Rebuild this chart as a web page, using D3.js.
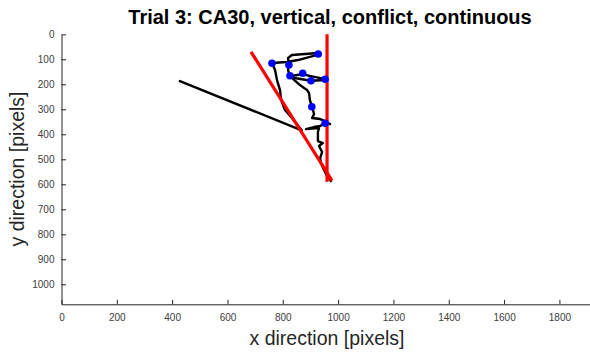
<!DOCTYPE html>
<html>
<head>
<meta charset="utf-8">
<script src="https://cdn.jsdelivr.net/npm/d3@7"></script>
<style>
  body { margin: 0; background: #fff; }
  svg { display: block; font-family: "Liberation Sans", Arial, Helvetica, sans-serif; }
</style>
</head>
<body>
<svg id="chart" width="590" height="353"></svg>
<script>
// Screen extent in pixels (axis domains)
const xDomain = [0, 1920];
const yDomain = [0, 1080];
const xTicks = [0, 200, 400, 600, 800, 1000, 1200, 1400, 1600, 1800];
const yTicks = [0, 100, 200, 300, 400, 500, 600, 700, 800, 900, 1000];

// Reference lines: vertical target line and the 30-degree conflict line
const verticalLine = [[960, 0], [960, 590]];
const conflictLine = [[685, 70], [978, 585]];

// Initial straight cursor jump
const jumpLine = [[428, 187], [866, 383]];

// Hand trajectory pieces (x, y in screen pixels)
const trajRight = [
  [974, 587], [960, 567], [949, 543], [938, 515], [935, 495], [942, 471],
  [931, 447], [945, 435], [927, 427], [927, 391], [931, 375], [884, 379],
  [913, 371], [935, 367], [953, 355], [971, 359], [953, 347], [935, 339],
  [906, 335], [913, 319], [906, 291], [898, 263], [895, 235], [888, 223],
  [877, 215], [862, 203], [850, 191], [826, 167]
];
const trajUpper = [[826, 167], [872, 160], [953, 179]];
const trajLower = [[826, 172], [902, 186], [953, 183]];
const trajRise = [[826, 167], [819, 143], [822, 123], [819, 95], [833, 83], [928, 75]];
const trajTop = [[761, 115], [815, 111], [855, 103], [928, 81]];
const trajLeft = [
  [761, 115], [772, 143], [779, 183], [790, 223], [794, 263], [808, 303],
  [833, 335], [859, 371], [868, 383]
];

// Sample points along the trajectory
const samplesX = [928, 761, 822, 826, 872, 902, 953, 905, 953];
const samplesY = [79, 116, 123, 166, 156, 186, 180, 290, 356];

const svg = d3.select("#chart");
const x = d3.scaleLinear().domain(xDomain).range([61.5, 592.6]);
const y = d3.scaleLinear().domain(yDomain).range([34.3, 304.3]);
const axisColor = "#262626";

// Axes (ticks pointing inward, no box)
const xAxis = svg.append("g")
  .attr("transform", `translate(0,${y(yDomain[1])})`)
  .call(d3.axisBottom(x).tickValues(xTicks).tickFormat(d3.format("d"))
    .tickSizeInner(-4.5).tickSizeOuter(0).tickPadding(10));
const yAxis = svg.append("g")
  .attr("transform", `translate(${x(0)},0)`)
  .call(d3.axisLeft(y).tickValues(yTicks).tickFormat(d3.format("d"))
    .tickSizeInner(-4.5).tickSizeOuter(0).tickPadding(7));
[xAxis, yAxis].forEach(g => {
  g.select(".domain").attr("stroke", axisColor).attr("stroke-width", 1);
  g.selectAll(".tick line").attr("stroke", axisColor).attr("stroke-width", 1);
  g.selectAll(".tick text").attr("fill", "#404040").style("font-size", "10px")
    .style("font-family", "'Liberation Sans', Arial, sans-serif");
});

const line = d3.line().x(d => x(d[0])).y(d => y(d[1]));
const plot = svg.append("g");

// Trajectory
[jumpLine, trajLeft, trajTop, trajRise, trajUpper, trajLower, trajRight].forEach(p => {
  plot.append("path").attr("d", line(p)).attr("fill", "none")
    .attr("stroke", "#000").attr("stroke-width", 2.4)
    .attr("stroke-linejoin", "round").attr("stroke-linecap", "round");
});

// Red reference lines
[verticalLine, conflictLine].forEach(p => {
  plot.append("path").attr("d", line(p)).attr("fill", "none")
    .attr("stroke", "#ff0000").attr("stroke-width", 3.2);
});

// Sample markers
plot.selectAll("circle.sample").data(samplesX.map((v, i) => [v, samplesY[i]]))
  .join("circle").attr("class", "sample")
  .attr("cx", d => x(d[0])).attr("cy", d => y(d[1])).attr("r", 3.8)
  .attr("fill", "#0000ff");

// Title and axis labels
svg.append("text").attr("x", 330).attr("y", 24).attr("text-anchor", "middle")
  .style("font-size", "20px").style("font-weight", "bold").attr("fill", "#000")
  .text("Trial 3: CA30, vertical, conflict, continuous");
svg.append("text").attr("x", 327).attr("y", 345).attr("text-anchor", "middle")
  .style("font-size", "19.5px").attr("fill", "#262626")
  .text("x direction [pixels]");
svg.append("text").attr("transform", "translate(24,169) rotate(-90)").attr("text-anchor", "middle")
  .style("font-size", "19.5px").attr("fill", "#262626")
  .text("y direction [pixels]");
</script>
</body>
</html>
